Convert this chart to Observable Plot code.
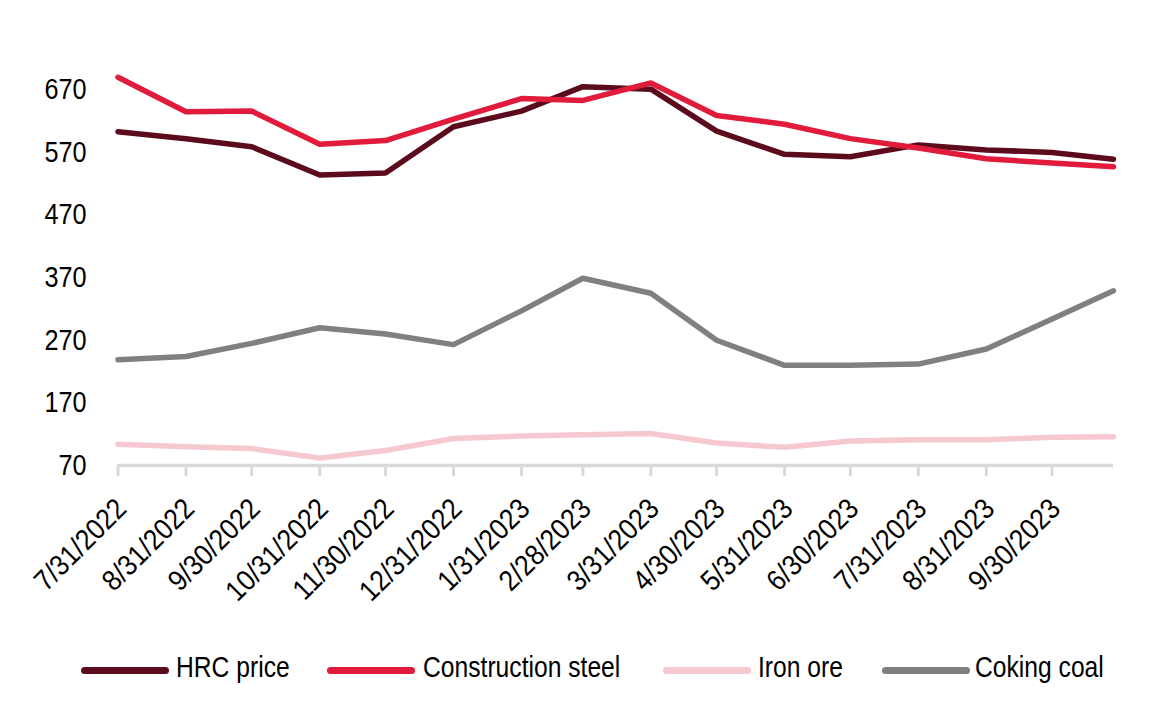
<!DOCTYPE html>
<html>
<head>
<meta charset="utf-8">
<script src="https://cdn.jsdelivr.net/npm/d3@7"></script>
<script src="https://cdn.jsdelivr.net/npm/@observablehq/plot@0.6"></script>
<style>
  html, body { margin: 0; padding: 0; background: #fff; }
  body { width: 1168px; height: 706px; overflow: hidden; position: relative; font-family: "Liberation Sans", Arial, sans-serif; }
  #chart { position: absolute; left: 0; top: 0; }
  .sw { position: absolute; top: 667px; width: 88px; height: 7px; border-radius: 3.5px; }
  .lt { position: absolute; top: 653px; font-size: 29px; line-height: 29px; color: #000; white-space: nowrap;
        transform: scaleX(0.85); transform-origin: 0 50%; }
</style>
</head>
<body>
<div id="chart"></div>
<div id="legend"></div>
<script>
const dates = ["2022-07-31","2022-08-31","2022-09-30","2022-10-31","2022-11-30","2022-12-31",
  "2023-01-31","2023-02-28","2023-03-31","2023-04-30","2023-05-31","2023-06-30",
  "2023-07-31","2023-08-31","2023-09-30","2023-10-28"];
const tickLabels = ["7/31/2022","8/31/2022","9/30/2022","10/31/2022","11/30/2022","12/31/2022",
  "1/31/2023","2/28/2023","3/31/2023","4/30/2023","5/31/2023","6/30/2023",
  "7/31/2023","8/31/2023","9/30/2023"];
const seriesNames = ["HRC price", "Construction steel", "Iron ore", "Coking coal"];
const seriesColors = ["#5c0b1d", "#e11b3c", "#f6c9d1", "#808080"];
const hrc = [603, 592, 579, 534, 537, 611, 636, 675, 671, 604, 567, 563, 582, 574, 570, 559];
const construction = [690, 635, 636, 583, 589, 623, 656, 653, 681, 629, 615, 592, 577, 560, 553, 547];
const ironOre = [104, 100, 97, 82, 94, 113, 117, 119, 121, 106, 99, 109, 111, 111, 115, 116];
const cokingCoal = [239, 244, 265, 290, 280, 263, 317, 369, 345, 270, 230, 230, 232, 256, 304, 349];
const yTicks = [70, 170, 270, 370, 470, 570, 670];

const parse = d3.utcParse("%Y-%m-%d");
const seriesValues = [hrc, construction, ironOre, cokingCoal];
const rows = [];
seriesNames.forEach((name, s) => {
  seriesValues[s].forEach((v, i) => rows.push({date: parse(dates[i]), value: v, series: name}));
});
const tickDates = tickLabels.map((t, i) => parse(dates[i]));
const labelOf = new Map(tickDates.map((d, i) => [+d, tickLabels[i]]));

const chart = Plot.plot({
  width: 1168,
  height: 640,
  marginLeft: 117.5,
  marginRight: 55,
  marginTop: 58,
  marginBottom: 175,
  style: {fontFamily: '"Liberation Sans", Arial, sans-serif', color: "#000", background: "#fff"},
  x: {type: "utc", domain: [parse(dates[0]), parse(dates[dates.length - 1])], axis: null},
  y: {domain: [70, 720]},
  color: {domain: seriesNames, range: seriesColors},
  marks: [
    Plot.ruleX(tickDates, {x: d => d, y1: 70, y2: 70, insetBottom: -11, stroke: "#d9d9d9", strokeWidth: 3}),
    Plot.ruleY([70], {stroke: "#d9d9d9", strokeWidth: 3.5}),
    Plot.text(tickDates, {x: d => d, frameAnchor: "bottom", text: d => labelOf.get(+d), rotate: -45,
      textAnchor: "end", lineAnchor: "bottom", dx: 10, dy: 45, fontSize: 29, fill: "#000"}),
    Plot.axisY({ticks: yTicks, tickSize: 0, tickPadding: 31.5, fontSize: 29, label: null}),
    Plot.lineY(rows, {x: "date", y: "value", z: "series", stroke: "series", strokeWidth: 5.5, strokeLinejoin: "round", strokeLinecap: "round"})
  ]
});
document.getElementById("chart").appendChild(chart);

function squeeze(nodes, f) {
  nodes.forEach(t => {
    const L = t.getComputedTextLength();
    t.setAttribute("textLength", (L * f).toFixed(2));
    t.setAttribute("lengthAdjust", "spacingAndGlyphs");
  });
}
squeeze(chart.querySelectorAll('g[aria-label="y-axis tick label"] text'), 0.87);
squeeze(chart.querySelectorAll('g[aria-label="text"] text'), 0.9);

const legend = document.getElementById("legend");
const swatchX = [81, 327, 663, 882];
const textX = [176, 423, 758, 975];
seriesNames.forEach((name, i) => {
  const sw = document.createElement("div");
  sw.className = "sw";
  sw.style.left = swatchX[i] + "px";
  sw.style.background = seriesColors[i];
  const tx = document.createElement("div");
  tx.className = "lt";
  tx.style.left = textX[i] + "px";
  tx.textContent = name;
  legend.appendChild(sw); legend.appendChild(tx);
});
</script>
</body>
</html>
